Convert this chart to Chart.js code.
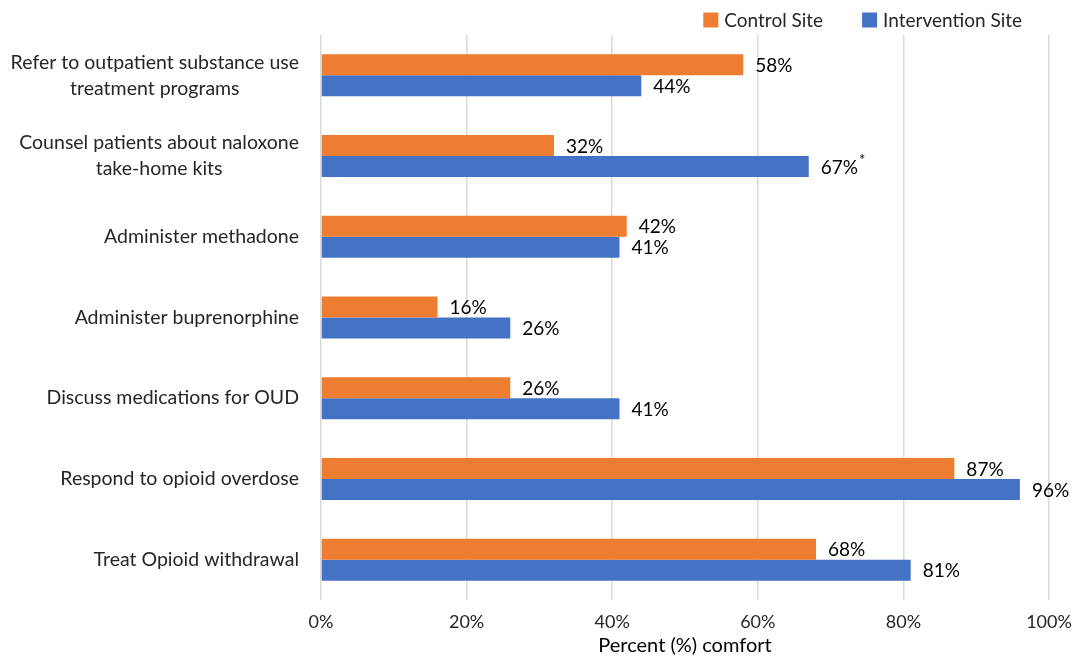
<!DOCTYPE html>
<html>
<head>
<meta charset="utf-8">
<script src="https://cdn.jsdelivr.net/npm/chart.js@4"></script>
<style>
  html, body { margin:0; padding:0; background:#fff; }
  #wrap { width:1078px; height:658px; }
</style>
</head>
<body>
<div id="wrap"><canvas id="c" width="1078" height="658"></canvas></div>
<script>
// ---- data ----
const categories = [
  ['Refer to outpatient substance use', 'treatment programs'],
  ['Counsel patients about naloxone', 'take-home kits'],
  ['Administer methadone'],
  ['Administer buprenorphine'],
  ['Discuss medications for OUD'],
  ['Respond to opioid overdose'],
  ['Treat Opioid withdrawal']
];
const controlSite = [58, 32, 42, 16, 26, 87, 68];
const interventionSite = [44, 67, 41, 26, 41, 96, 81];
const interventionMarks = ['', '*', '', '', '', '', ''];
const xTicks = [0, 20, 40, 60, 80, 100];

const FONT = "Lato, 'Open Sans', sans-serif";
const ORANGE = '#ED7D31', BLUE = '#4472C4';

Chart.defaults.font.family = FONT;
Chart.defaults.color = '#262626';

// value labels at bar ends
const valueLabels = {
  id:'valueLabels',
  afterDatasetsDraw(chart) {
    const x = chart.ctx; x.save();
    x.textBaseline = 'middle'; x.fillStyle = '#000';
    chart.data.datasets.forEach((ds, di) => {
      chart.getDatasetMeta(di).data.forEach((bar, i) => {
        const t = ds.data[i] + '%';
        x.font = '19px ' + FONT; x.textAlign = 'left';
        const px = bar.x + 12;
        x.fillText(t, px, bar.y + 1);
        const m = ds.marks ? ds.marks[i] : '';
        if (m) {
          const w = x.measureText(t).width;
          x.font = '15px ' + FONT;
          x.fillText(m, px + w + 1, bar.y - 6);
        }
      });
    });
    x.restore();
  }
};

// category labels: lines centred on each other, block right-aligned
const catLabels = {
  id:'catLabels',
  afterDraw(chart) {
    const x = chart.ctx, ys = chart.scales.y; x.save();
    x.font = '19.5px ' + FONT; x.fillStyle = '#262626';
    x.textBaseline = 'middle'; x.textAlign = 'center';
    const right = chart.chartArea.left - 22, lh = 26;
    categories.forEach((lines, i) => {
      const cy = ys.getPixelForTick(i);
      const w = Math.max(...lines.map(l => x.measureText(l).width));
      const cx = right - w / 2;
      lines.forEach((l, k) => x.fillText(l, cx, cy + (k - (lines.length - 1) / 2) * lh));
    });
    x.restore();
  }
};

// legend drawn top right, Excel style
const topLegend = {
  id:'topLegend',
  afterDraw(chart) {
    const x = chart.ctx; x.save();
    x.font = '19px ' + FONT; x.textBaseline = 'middle'; x.textAlign = 'left';
    const box = 15, gap = 6, itemGap = 39, cy = 20;
    const ds = chart.data.datasets;
    const widths = ds.map(d => box + gap + x.measureText(d.label).width);
    let px = 1022 - widths.reduce((a, b) => a + b, 0) - itemGap * (ds.length - 1);
    ds.forEach((d, i) => {
      x.fillStyle = d.backgroundColor;
      x.fillRect(px, cy - box / 2, box, box);
      x.fillStyle = '#262626';
      x.fillText(d.label, px + box + gap, cy + 1);
      px += widths[i] + itemGap;
    });
    x.restore();
  }
};

new Chart(document.getElementById('c'), {
  type:'bar',
  data:{
    labels: categories,
    datasets:[
      { label:'Control Site', data:controlSite, backgroundColor:ORANGE,
        barPercentage:1, categoryPercentage:0.52 },
      { label:'Intervention Site', data:interventionSite, marks:interventionMarks, backgroundColor:BLUE,
        barPercentage:1, categoryPercentage:0.52 }
    ]
  },
  options:{
    indexAxis:'y',
    responsive:false,
    animation:false,
    layout:{ padding:{ top:35, right:29, bottom:0, left:0 } },
    plugins:{
      legend:{ display:false },
      tooltip:{ enabled:false }
    },
    scales:{
      x:{ min:0, max:100,
        afterBuildTicks(s) { s.ticks = xTicks.map(v => ({ value:v })); },
        afterFit(s) { s.height = 58; s.paddingRight = 0; s.paddingLeft = 0; },
        grid:{ color:'#D9D9D9', lineWidth:1.5, drawTicks:false },
        border:{ display:false },
        ticks:{ padding:11, color:'#262626', font:{ size:18 }, callback:v => v + '%' },
        title:{ display:true, text:'Percent (%) comfort', color:'#000', font:{ size:20 }, padding:{ top:0, bottom:0 } }
      },
      y:{
        grid:{ display:false }, border:{ display:false },
        ticks:{ display:false },
        afterFit(s) { s.width = 321; }
      }
    }
  },
  plugins:[valueLabels, catLabels, topLegend]
});
</script>
</body>
</html>
